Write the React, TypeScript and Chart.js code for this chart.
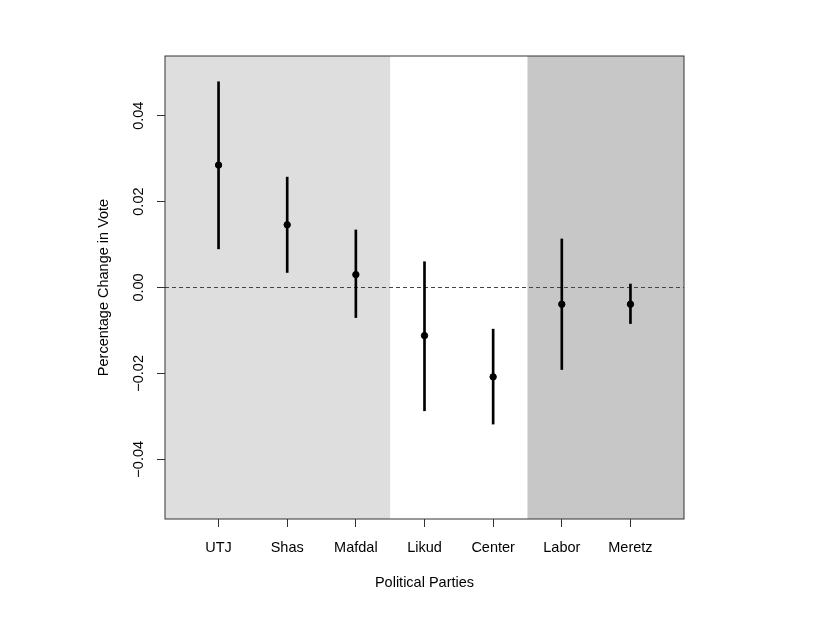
import React, { useEffect, useRef } from "react";
import { Chart, registerables } from "chart.js";
Chart.register(...registerables);

// parties in plotting order
const parties = ["UTJ", "Shas", "Mafdal", "Likud", "Center", "Labor", "Meretz"];
const estimates = [0.0285, 0.0146, 0.003, -0.0112, -0.0208, -0.0039, -0.0039];
const lower = [0.009, 0.0035, -0.007, -0.0287, -0.0318, -0.0191, -0.0084];
const upper = [0.0479, 0.0257, 0.0134, 0.006, -0.0097, 0.0113, 0.0008];
const yTicks = [-0.04, -0.02, 0, 0.02, 0.04];

const X_MIN = 0.22;
const X_MAX = 7.78;
const Y_LIM = 0.0539;

// background shading for party blocs (x from, x to)
const blocs = [
  { from: X_MIN, to: 3.5, color: "#dedede" },
  { from: 5.5, to: X_MAX, color: "#c7c7c7" },
];

const FONT = { family: "'Liberation Sans', Arial, sans-serif", size: 14.5 };

const shading = {
  id: "shading",
  beforeDatasetsDraw(chart: any) {
    const { ctx, chartArea, scales } = chart;
    ctx.save();
    blocs.forEach((b) => {
      const x0 = scales.x.getPixelForValue(b.from);
      const x1 = scales.x.getPixelForValue(b.to);
      ctx.fillStyle = b.color;
      ctx.fillRect(x0, chartArea.top, x1 - x0, chartArea.bottom - chartArea.top);
    });
    ctx.restore();
  },
  afterDraw(chart: any) {
    const { ctx, chartArea } = chart;
    ctx.save();
    ctx.strokeStyle = "#333";
    ctx.lineWidth = 1;
    ctx.strokeRect(chartArea.left, chartArea.top, chartArea.right - chartArea.left, chartArea.bottom - chartArea.top);
    ctx.restore();
  },
};

const App: React.FC = () => {
  const chartRef = useRef<HTMLCanvasElement>(null);

  useEffect(() => {
    if (!chartRef.current) return;
    const chart = new Chart(chartRef.current, {
      type: "scatter",
      data: {
        datasets: [
          {
            type: "scatter",
            data: estimates.map((v, i) => ({ x: i + 1, y: v })),
            backgroundColor: "#000",
            borderColor: "#000",
            pointRadius: 3.2,
            pointHoverRadius: 3.2,
            order: 0,
          },
          {
            type: "bar",
            data: parties.map((_, i) => ({ x: i + 1, y: [lower[i], upper[i]] })) as any,
            backgroundColor: "#000",
            barThickness: 2,
            order: 1,
          },
          {
            type: "line",
            data: [
              { x: X_MIN, y: 0 },
              { x: X_MAX, y: 0 },
            ],
            borderColor: "#444",
            borderWidth: 1,
            borderDash: [4, 3],
            pointRadius: 0,
            order: 2,
          },
        ] as any,
      },
      options: {
        animation: false,
        responsive: false,
        maintainAspectRatio: false,
        layout: { padding: { left: 0, top: 56, right: 132, bottom: 0 } },
        plugins: { legend: { display: false }, tooltip: { enabled: false } },
        scales: {
          x: {
            type: "linear",
            min: X_MIN,
            max: X_MAX,
            offset: false,
            afterFit: (s: any) => {
              s.height = 109;
            },
            afterBuildTicks: (s: any) => {
              s.ticks = parties.map((_, i) => ({ value: i + 1 }));
            },
            ticks: {
              color: "#000",
              font: FONT,
              padding: 12,
              maxRotation: 0,
              autoSkip: false,
              callback: (v: any) => parties[Math.round(Number(v)) - 1] ?? "",
            },
            grid: { offset: false, drawOnChartArea: false, drawTicks: true, tickLength: 8, color: "#333" },
            border: { display: false },
            title: {
              display: true,
              text: "Political Parties",
              color: "#000",
              font: FONT,
              padding: { top: 0, bottom: 36 },
            },
          },
          y: {
            type: "linear",
            min: -Y_LIM,
            max: Y_LIM,
            afterFit: (s: any) => {
              s.width = 165;
            },
            afterBuildTicks: (s: any) => {
              s.ticks = yTicks.map((v) => ({ value: v }));
            },
            ticks: {
              color: "#000",
              font: FONT,
              padding: 0,
              minRotation: 90,
              maxRotation: 90,
              crossAlign: "center",
              callback: (v: any) => Number(v).toFixed(2).replace("-", "\u2212"),
            },
            grid: { drawOnChartArea: false, drawTicks: true, tickLength: 8, color: "#333" },
            border: { display: false },
            title: {
              display: true,
              text: "Percentage Change in Vote",
              color: "#000",
              font: FONT,
              padding: { top: 95, bottom: 0 },
            },
          },
        },
      },
      plugins: [shading],
    } as any);
    return () => {
      chart.destroy();
    };
  }, []);

  return (
    <div style={{ position: "absolute", left: 0, top: 0, width: 816, height: 628 }}>
      <canvas ref={chartRef} width={816} height={628} style={{ display: "block" }} />
    </div>
  );
};

export default App;
